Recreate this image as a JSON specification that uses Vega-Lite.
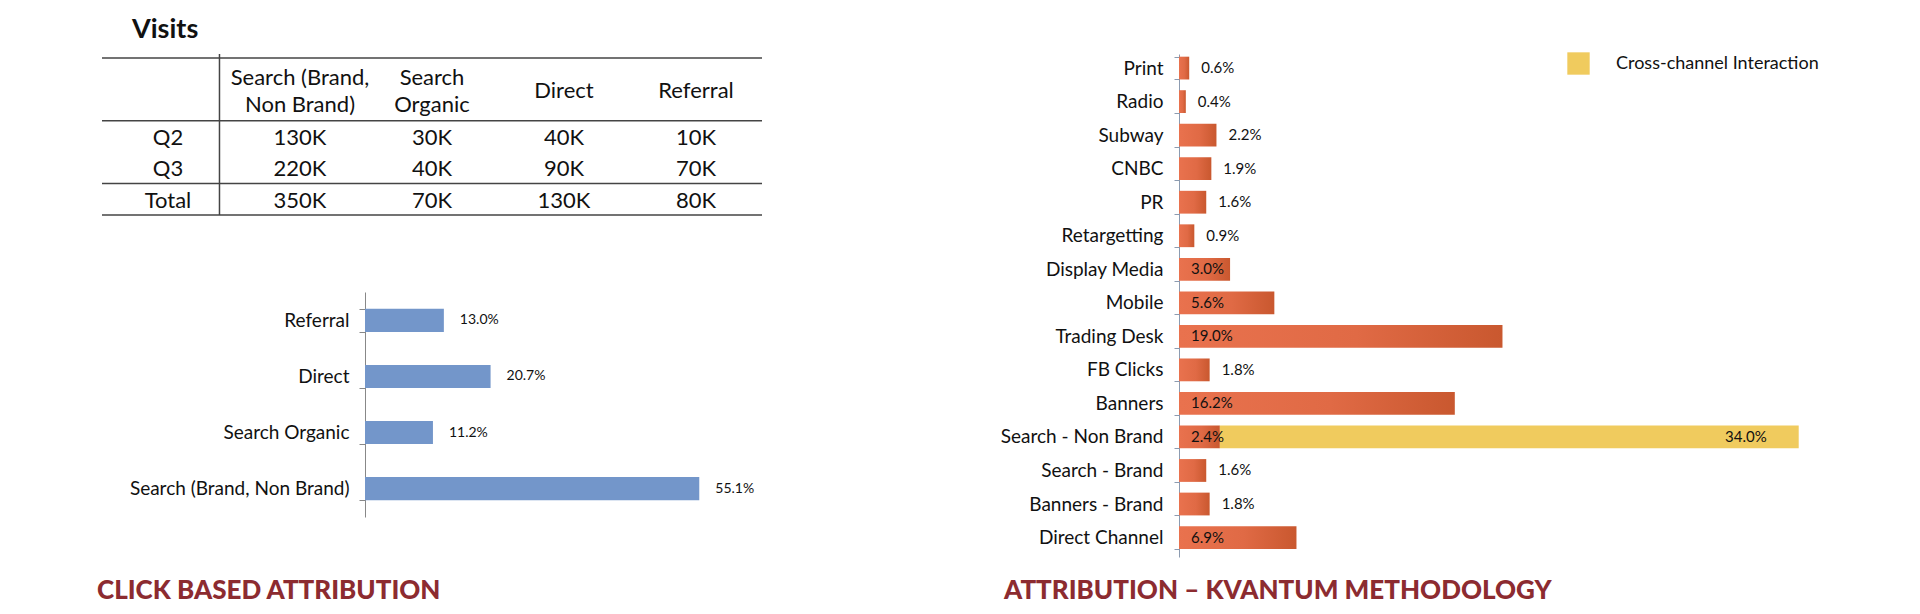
{
  "$schema": "https://vega.github.io/schema/vega-lite/v6.json",
  "background": "white",
  "padding": {"left": 97, "top": 16, "right": 0, "bottom": 0},
  "config": {
    "view": {"stroke": null},
    "font": "Lato",
    "axis": {"labelFont": "Lato"},
    "legend": {"labelFont": "Lato"},
    "title": {"font": "Lato"}
  },
  "datasets": {
    "table": [
      {"row": "h1", "col": "Search (Brand, Non Brand)", "text": "Search (Brand,\nNon Brand)"},
      {"row": "h1", "col": "Search Organic", "text": "Search\nOrganic"},
      {"row": "h1", "col": "Direct", "text": "Direct"},
      {"row": "h1", "col": "Referral", "text": "Referral"},
      {"row": "Q2", "col": "label", "text": "Q2"},
      {"row": "Q2", "col": "Search (Brand, Non Brand)", "text": "130K"},
      {"row": "Q2", "col": "Search Organic", "text": "30K"},
      {"row": "Q2", "col": "Direct", "text": "40K"},
      {"row": "Q2", "col": "Referral", "text": "10K"},
      {"row": "Q3", "col": "label", "text": "Q3"},
      {"row": "Q3", "col": "Search (Brand, Non Brand)", "text": "220K"},
      {"row": "Q3", "col": "Search Organic", "text": "40K"},
      {"row": "Q3", "col": "Direct", "text": "90K"},
      {"row": "Q3", "col": "Referral", "text": "70K"},
      {"row": "Total", "col": "label", "text": "Total"},
      {"row": "Total", "col": "Search (Brand, Non Brand)", "text": "350K"},
      {"row": "Total", "col": "Search Organic", "text": "70K"},
      {"row": "Total", "col": "Direct", "text": "130K"},
      {"row": "Total", "col": "Referral", "text": "80K"}
    ],
    "tlines": [{"row": "h1"}, {"row": "Q2"}, {"row": "Total"}],
    "click": [
      {"channel": "Referral", "share": 0.130},
      {"channel": "Direct", "share": 0.207},
      {"channel": "Search Organic", "share": 0.112},
      {"channel": "Search (Brand, Non Brand)", "share": 0.551}
    ],
    "kvantum": [
      {"channel": "Print", "type": "Channel", "share": 0.006},
      {"channel": "Radio", "type": "Channel", "share": 0.004},
      {"channel": "Subway", "type": "Channel", "share": 0.022},
      {"channel": "CNBC", "type": "Channel", "share": 0.019},
      {"channel": "PR", "type": "Channel", "share": 0.016},
      {"channel": "Retargetting", "type": "Channel", "share": 0.009},
      {"channel": "Display Media", "type": "Channel", "share": 0.030},
      {"channel": "Mobile", "type": "Channel", "share": 0.056},
      {"channel": "Trading Desk", "type": "Channel", "share": 0.190},
      {"channel": "FB Clicks", "type": "Channel", "share": 0.018},
      {"channel": "Banners", "type": "Channel", "share": 0.162},
      {"channel": "Search - Non Brand", "type": "Channel", "share": 0.024},
      {"channel": "Search - Non Brand", "type": "Cross-channel Interaction", "share": 0.340},
      {"channel": "Search - Brand", "type": "Channel", "share": 0.016},
      {"channel": "Banners - Brand", "type": "Channel", "share": 0.018},
      {"channel": "Direct Channel", "type": "Channel", "share": 0.069}
    ]
  },
  "bounds": "flush",
  "spacing": 1077,
  "hconcat": [
    {
      "bounds": "flush",
      "spacing": 77,
      "vconcat": [
        {
          "width": 660,
          "height": 161,
          "title": {"text": "Visits", "anchor": "start", "frame": "group", "dx": 30, "offset": 9, "fontSize": 27, "fontWeight": "bold", "color": "#111111"},
          "data": {"name": "table"},
          "layer": [
            {
              "data": {"name": "tlines"},
              "mark": {"type": "rule", "color": "#444444", "strokeWidth": 1.5},
              "encoding": {
                "y": {"field": "row", "type": "nominal", "bandPosition": 0, "axis": null,
                      "scale": {"domain": ["h1", "h2", "Q2", "Q3", "Total"], "paddingInner": 0, "paddingOuter": 0.0637, "align": 1}}
              }
            },
            {
              "data": {"values": [{"row": "Total"}]},
              "mark": {"type": "rule", "color": "#444444", "strokeWidth": 1.5},
              "encoding": {
                "y": {"field": "row", "type": "nominal", "bandPosition": 1, "axis": null}
              }
            },
            {
              "data": {"values": [{"col": "label"}]},
              "mark": {"type": "rule", "color": "#444444", "strokeWidth": 1.5},
              "encoding": {
                "x": {"field": "col", "type": "nominal", "bandPosition": 0.89, "axis": null,
                      "scale": {"domain": ["label", "Search (Brand, Non Brand)", "Search Organic", "Direct", "Referral"], "paddingInner": 0, "paddingOuter": 0}}
              }
            },
            {
              "transform": [{"filter": "datum.row == 'h1' && indexof(datum.text, '\\n') >= 0"}],
              "mark": {"type": "text", "fontSize": 22, "lineBreak": "\n", "lineHeight": 27, "color": "#111111", "baseline": "middle", "dy": -11},
              "encoding": {
                "x": {"field": "col", "type": "nominal", "axis": null},
                "y": {"field": "row", "type": "nominal", "bandPosition": 1, "axis": null},
                "text": {"field": "text"}
              }
            },
            {
              "transform": [{"filter": "datum.row == 'h1' && indexof(datum.text, '\\n') < 0"}],
              "mark": {"type": "text", "fontSize": 22, "color": "#111111", "baseline": "middle", "dy": 2},
              "encoding": {
                "x": {"field": "col", "type": "nominal", "axis": null},
                "y": {"field": "row", "type": "nominal", "bandPosition": 1, "axis": null},
                "text": {"field": "text"}
              }
            },
            {
              "transform": [{"filter": "datum.row != 'h1'"}],
              "mark": {"type": "text", "fontSize": 22, "color": "#111111", "baseline": "middle", "dy": 1.5},
              "encoding": {
                "x": {"field": "col", "type": "nominal", "axis": null},
                "y": {"field": "row", "type": "nominal", "axis": null},
                "text": {"field": "text"}
              }
            }
          ]
        },
        {
          "bounds": "flush",
          "spacing": 0,
          "hconcat": [
            {"width": 263, "height": 225, "data": {"values": []}, "mark": "point"},
            {
              "width": 364,
              "height": 225,
              "data": {"name": "click"},
              "title": {"text": "CLICK BASED ATTRIBUTION", "orient": "bottom", "anchor": "start", "frame": "group", "dx": -268, "offset": 61, "fontSize": 26, "fontWeight": 900, "color": "#8C2B30"},
              "encoding": {
                "y": {"field": "channel", "type": "nominal",
                      "sort": ["Referral", "Direct", "Search Organic", "Search (Brand, Non Brand)"],
                      "scale": {"paddingInner": 0.589, "paddingOuter": 0.3},
                      "axis": {"title": null, "domainColor": "#888888", "tickColor": "#888888", "tickBand": "extent", "tickSize": 6, "labelFontSize": 19, "labelColor": "#111111", "labelPadding": 10, "labelLimit": 400}},
                "x": {"field": "share", "type": "quantitative", "scale": {"domain": [0, 0.6]}, "axis": null}
              },
              "layer": [
                {"mark": {"type": "bar", "color": "#7396CA"}},
                {"mark": {"type": "text", "align": "left", "dx": 16, "fontSize": 14, "color": "#111111"},
                 "encoding": {"text": {"field": "share", "format": ".1%"}}}
              ]
            }
          ]
        }
      ]
    },
    {
      "width": 681,
      "height": 503,
      "data": {"name": "kvantum"},
      "transform": [{"stack": "share", "groupby": ["channel"], "sort": [{"field": "type", "order": "ascending"}], "as": ["v0", "v1"]}],
      "title": {"text": "ATTRIBUTION – KVANTUM METHODOLOGY", "orient": "bottom", "anchor": "start", "frame": "group", "dx": -175, "offset": 21, "fontSize": 26, "fontWeight": 900, "color": "#8C2B30"},
      "encoding": {
        "y": {"field": "channel", "type": "nominal",
              "sort": ["Print", "Radio", "Subway", "CNBC", "PR", "Retargetting", "Display Media", "Mobile", "Trading Desk", "FB Clicks", "Banners", "Search - Non Brand", "Search - Brand", "Banners - Brand", "Direct Channel"],
              "scale": {"paddingInner": 0.32, "paddingOuter": 0.16, "align": 0.25},
              "axis": {"title": null, "domainColor": "#8C9BB0", "tickColor": "#8C9BB0", "tickBand": "extent", "tickSize": 5, "labelFontSize": 19, "labelColor": "#111111", "labelPadding": 11, "labelLimit": 400}}
      },
      "layer": [
        {
          "transform": [{"filter": "datum.type == 'Channel'"}],
          "mark": {"type": "bar", "color": {"gradient": "linear", "x1": 0, "y1": 0, "x2": 1, "y2": 0,
                   "stops": [{"offset": 0, "color": "#E9724E"}, {"offset": 0.55, "color": "#E06A45"}, {"offset": 1, "color": "#C9582F"}]}},
          "encoding": {
            "x": {"field": "v0", "type": "quantitative", "scale": {"domain": [0, 0.4]}, "axis": null},
            "x2": {"field": "v1"}
          }
        },
        {
          "transform": [{"filter": "datum.type != 'Channel'"}],
          "mark": {"type": "bar"},
          "encoding": {
            "x": {"field": "v0", "type": "quantitative", "axis": null},
            "x2": {"field": "v1"},
            "color": {"field": "type", "type": "nominal", "scale": {"range": ["#F0CB5E"]},
                      "legend": {"orient": "none", "legendX": 1465, "legendY": -2, "title": null, "symbolType": "square", "symbolSize": 500, "labelFontSize": 18, "labelColor": "#111111", "labelOffset": 26, "labelLimit": 400, "padding": 0, "symbolStrokeWidth": 0}}
          }
        },
        {
          "transform": [{"filter": "datum.type == 'Channel' && datum.share >= 0.023"}],
          "mark": {"type": "text", "align": "left", "dx": 12, "fontSize": 15, "color": "#111111"},
          "encoding": {
            "x": {"field": "v0", "type": "quantitative"},
            "text": {"field": "share", "format": ".1%"}
          }
        },
        {
          "transform": [{"filter": "datum.type == 'Channel' && datum.share < 0.023"}],
          "mark": {"type": "text", "align": "left", "dx": 12, "fontSize": 15, "color": "#111111"},
          "encoding": {
            "x": {"field": "v1", "type": "quantitative"},
            "text": {"field": "share", "format": ".1%"}
          }
        },
        {
          "transform": [{"filter": "datum.type != 'Channel'"}],
          "mark": {"type": "text", "align": "right", "dx": -32, "fontSize": 15, "color": "#111111"},
          "encoding": {
            "x": {"field": "v1", "type": "quantitative"},
            "text": {"field": "share", "format": ".1%"}
          }
        }
      ]
    }
  ]
}
